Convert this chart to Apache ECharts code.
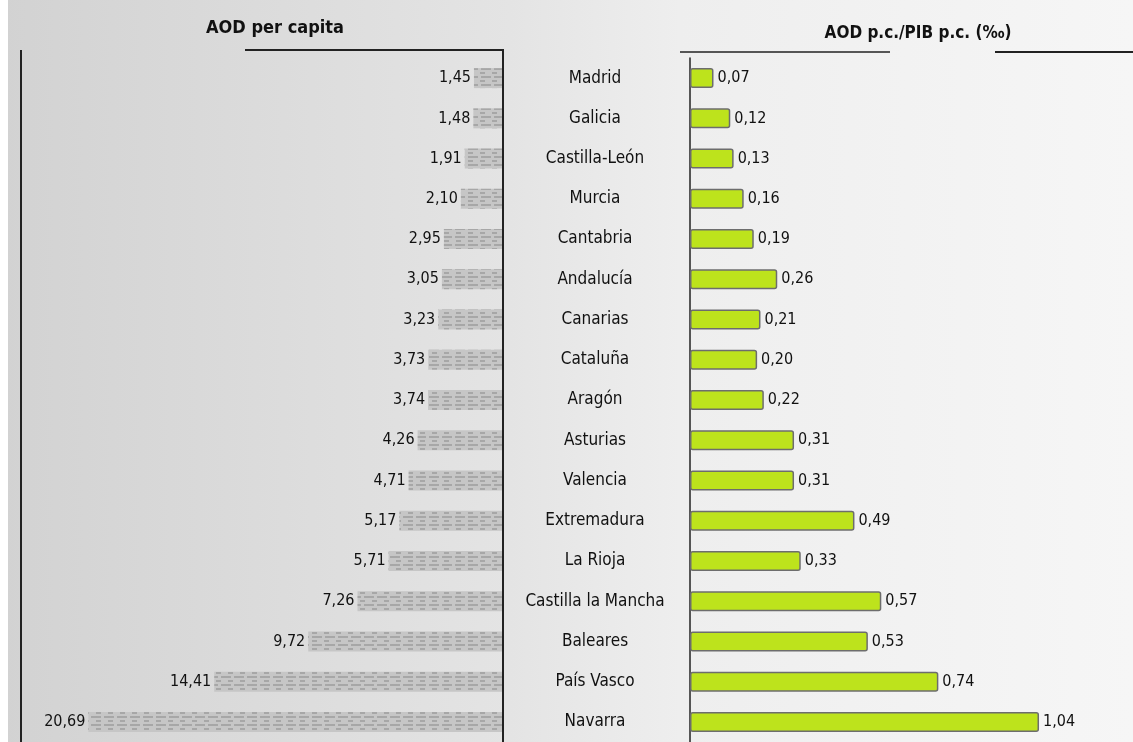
<!DOCTYPE html>
<html>
<head>
<meta charset="utf-8">
<script src="https://cdn.jsdelivr.net/npm/echarts@6/dist/echarts.min.js"></script>
<style>
  html, body { margin: 0; padding: 0; background: #f2f2f2; }
  #chart-container { width: 1133px; height: 742px; }
</style>
</head>
<body>
<div id="chart-container"></div>
<script>
var regions = ['Madrid', 'Galicia', 'Castilla-León', 'Murcia', 'Cantabria', 'Andalucía', 'Canarias',
  'Cataluña', 'Aragón', 'Asturias', 'Valencia', 'Extremadura', 'La Rioja', 'Castilla la Mancha',
  'Baleares', 'País Vasco', 'Navarra'];
var aodPerCapita = [1.45, 1.48, 1.91, 2.10, 2.95, 3.05, 3.23, 3.73, 3.74, 4.26, 4.71, 5.17, 5.71, 7.26, 9.72, 14.41, 20.69];
var aodPibRatio = [0.07, 0.12, 0.13, 0.16, 0.19, 0.26, 0.21, 0.20, 0.22, 0.31, 0.31, 0.49, 0.33, 0.57, 0.53, 0.74, 1.04];

var dom = document.getElementById('chart-container');
var myChart = echarts.init(dom, null, { renderer: 'canvas' });

var font = '"Liberation Sans Narrow", "DejaVu Sans Condensed", "Liberation Sans", sans-serif';
function comma(p) { return p.value.toFixed(2).replace('.', ','); }

var option = {
  animation: false,
  backgroundColor: '#f3f3f3',
  title: [
    { text: 'AOD per capita', left: 270, top: 14, textAlign: 'center',
      textStyle: { fontFamily: font, fontSize: 18, fontWeight: 'bold', color: '#111' } },
    { text: 'AOD p.c./PIB p.c. (‰)', left: 913, top: 20, textAlign: 'center',
      textStyle: { fontFamily: font, fontSize: 17, fontWeight: 'bold', color: '#111' } }
  ],
  graphic: [
    // page tones
    { type: 'rect', z: -10, shape: { x: 0, y: 0, width: 1133, height: 742 },
      style: { fill: new echarts.graphic.LinearGradient(0, 0, 1, 0, [
        { offset: 0, color: '#d2d2d2' }, { offset: 0.45, color: '#e4e4e4' },
        { offset: 0.6, color: '#eeeeee' }, { offset: 1, color: '#f6f6f6' }]) } },
    { type: 'rect', z: -9, shape: { x: 0, y: 0, width: 8, height: 742 }, style: { fill: '#ffffff' } },
    // left panel frame
    { type: 'polyline', z: 5, shape: { points: [[21, 742], [21, 50]] }, style: { stroke: '#222', lineWidth: 2, fill: null } },
    { type: 'polyline', z: 5, shape: { points: [[245, 50], [503, 50], [503, 742]] }, style: { stroke: '#222', lineWidth: 2, fill: null } },
    // right panel top rule
    { type: 'line', z: 5, shape: { x1: 680, y1: 52, x2: 890, y2: 52 }, style: { stroke: '#222', lineWidth: 1.5 } },
    { type: 'line', z: 5, shape: { x1: 995, y1: 52, x2: 1133, y2: 52 }, style: { stroke: '#222', lineWidth: 2 } }
  ],
  grid: [
    { left: 22, width: 481, top: 58, height: 687 },
    { left: 690, width: 443, top: 58, height: 687 }
  ],
  xAxis: [
    { gridIndex: 0, type: 'value', min: 0, max: 24, inverse: true, show: false },
    { gridIndex: 1, type: 'value', min: 0, max: 1.32, show: false }
  ],
  yAxis: [
    { gridIndex: 0, type: 'category', data: regions, inverse: true, position: 'right',
      axisLine: { show: false }, axisTick: { show: false }, axisLabel: { show: false } },
    { gridIndex: 1, type: 'category', data: regions, inverse: true,
      axisLine: { show: true, lineStyle: { color: '#222', width: 1.5 } },
      axisTick: { show: false },
      axisLabel: { margin: 95, align: 'center', fontFamily: font, fontSize: 17, color: '#111' } }
  ],
  series: [
    {
      type: 'bar', xAxisIndex: 0, yAxisIndex: 0, data: aodPerCapita, barWidth: 20,
      itemStyle: {
        color: '#c6c6c6',
        decal: { symbol: 'rect', symbolSize: 1, dashArrayX: [[10, 3], [5, 7]], dashArrayY: [2, 2],
          color: 'rgba(110,110,110,0.35)', rotation: 0 }
      },
      label: { show: true, position: 'left', distance: 3, formatter: comma,
        fontFamily: font, fontSize: 16, color: '#111' }
    },
    {
      type: 'bar', xAxisIndex: 1, yAxisIndex: 1, data: aodPibRatio, barWidth: 20,
      itemStyle: { color: '#bde31c', borderColor: '#6d6d6d', borderWidth: 1.5, borderRadius: 2 },
      label: { show: true, position: 'right', distance: 4, formatter: comma,
        fontFamily: font, fontSize: 16, color: '#111' }
    }
  ]
};

myChart.setOption(option);
window.addEventListener('resize', myChart.resize);
</script>
</body>
</html>
